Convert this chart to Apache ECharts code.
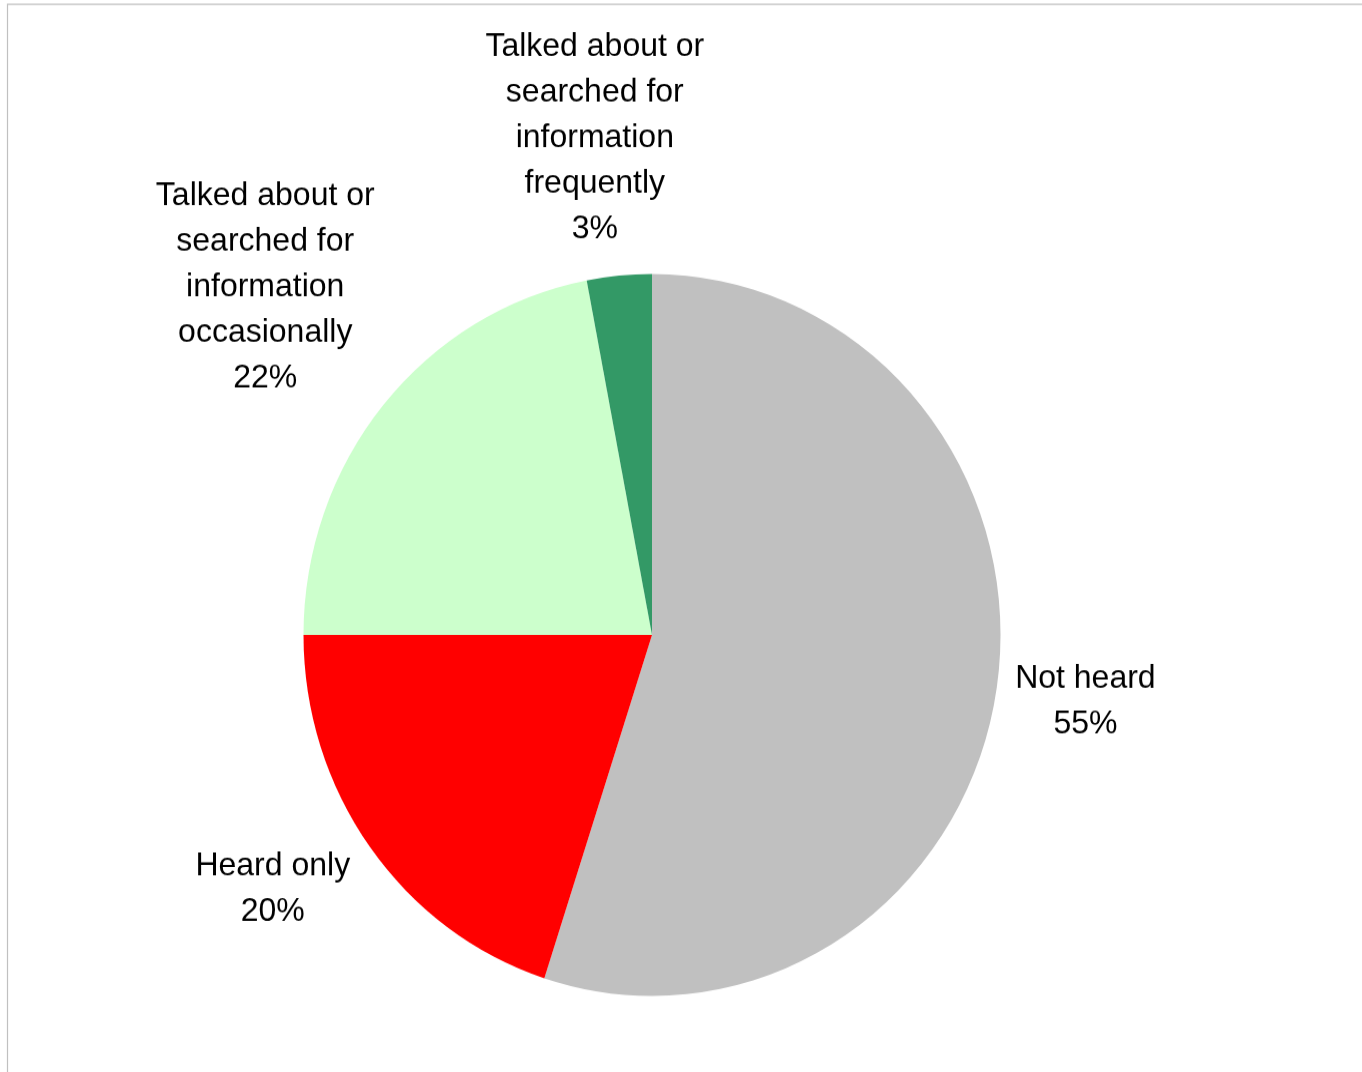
<!DOCTYPE html>
<html>
<head>
<meta charset="utf-8">
<script src="https://cdn.jsdelivr.net/npm/echarts@6/dist/echarts.min.js"></script>
<style>
  html, body { margin: 0; padding: 0; background: #ffffff; overflow: hidden; }
  #wrap { width: 1362px; height: 1072px; overflow: hidden; }
  /* the plot is drawn on a slightly shorter canvas and stretched to full height */
  #chart { width: 1362px; height: 1035px; transform: scaleY(1.0358); transform-origin: 0 0; }
</style>
</head>
<body>
<div id="wrap"><div id="chart"></div></div>
<script>
// Awareness of the topic, share of respondents (%)
const categories = [
  'Not heard',
  'Heard only',
  'Talked about or\nsearched for\ninformation\noccasionally',
  'Talked about or\nsearched for\ninformation\nfrequently'
];
const shares = [55, 20, 22, 3];
const sliceColors = ['#C0C0C0', '#FF0000', '#CCFFCC', '#339966'];

const CX = 652, CY = 613, R = 348.5, GAP = 12;
const total = shares.reduce((a, b) => a + b, 0);
// small hand tweaks to each label block after the radial placement
const labelNudge = [[2, -4], [-16, -19], [10, -8], [-12, -2]];

const chart = echarts.init(document.getElementById('chart'), null, { renderer: 'canvas' });

chart.setOption({
  animation: false,
  backgroundColor: '#ffffff',
  graphic: [{
    type: 'rect',
    silent: true,
    shape: { x: 7.5, y: 4.2, width: 1500, height: 1200 },
    style: { fill: 'none', stroke: '#C0C0C0', lineWidth: 1.2 }
  }],
  series: [{
    type: 'pie',
    center: [CX, CY],
    radius: R,
    startAngle: 90,
    clockwise: true,
    avoidLabelOverlap: false,
    emphasis: { disabled: true },
    itemStyle: { borderWidth: 0 },
    label: {
      show: true,
      position: 'outside',
      formatter: p => p.name + '\n' + p.value + '%',
      fontFamily: '"Liberation Sans", Arial, sans-serif',
      fontSize: 32,
      lineHeight: 44,
      color: '#000000'
    },
    labelLine: { show: false },
    // centre each label block outside its slice, along the slice's middle direction
    labelLayout: function (p) {
      const i = p.dataIndex;
      let before = 0;
      for (let k = 0; k < i; k++) before += shares[k];
      const mid = (before + shares[i] / 2) / total * Math.PI * 2;
      const dx = Math.sin(mid), dy = -Math.cos(mid);
      const w = p.labelRect.width, h = p.labelRect.height;
      const dist = R + GAP + Math.abs(dx) * w / 2 + Math.abs(dy) * h / 2;
      return {
        x: CX + dx * dist + labelNudge[i][0],
        y: CY + dy * dist + labelNudge[i][1],
        align: 'center',
        verticalAlign: 'middle'
      };
    },
    data: categories.map((name, i) => ({
      name: name,
      value: shares[i],
      itemStyle: { color: sliceColors[i] }
    }))
  }]
});
</script>
</body>
</html>
